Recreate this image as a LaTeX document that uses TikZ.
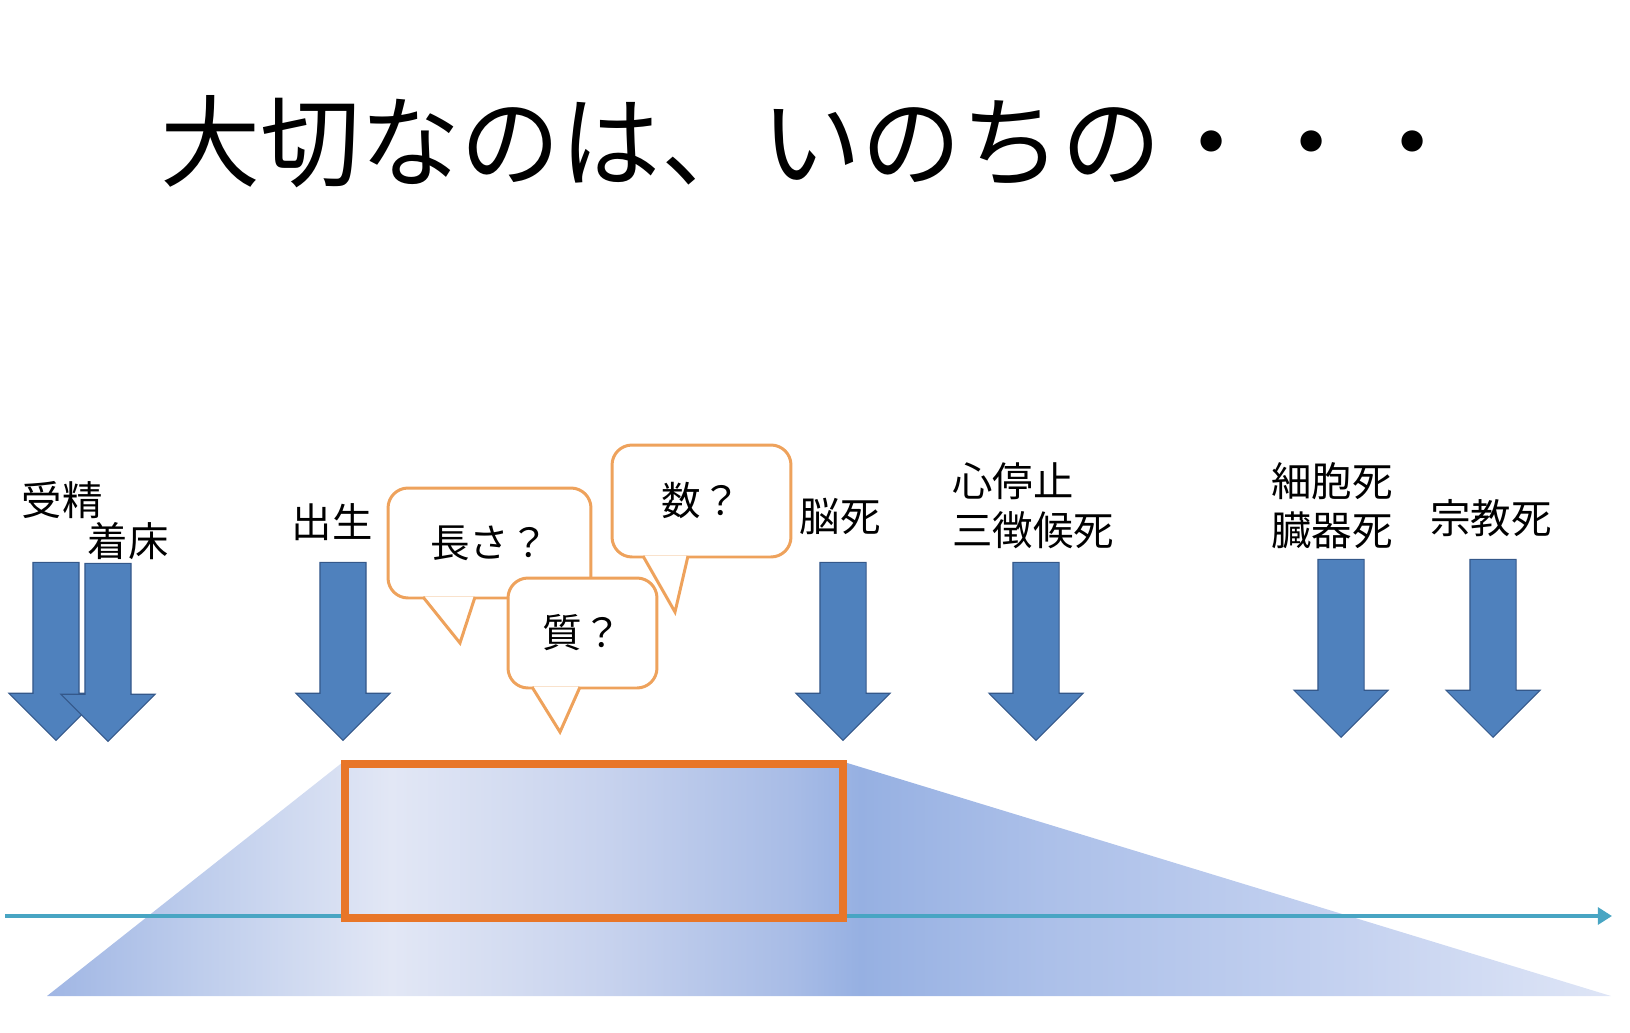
\documentclass[tikz,border=0pt]{standalone}
\usepackage{fontspec}
\setmainfont{Noto Sans CJK JP}
\usetikzlibrary{shapes.arrows,arrows.meta}

\definecolor{arrowblue}{RGB}{79,129,189}
\definecolor{arrowline}{RGB}{52,88,138}
\definecolor{talkorange}{RGB}{238,162,92}
\definecolor{lifeorange}{RGB}{232,118,40}
\definecolor{timeteal}{RGB}{72,165,195}
%% colours of the life band, left to right
\definecolor{bandA}{RGB}{160,182,228}
\definecolor{bandB}{RGB}{190,205,236}
\definecolor{bandC}{RGB}{226,231,245}
\definecolor{bandD}{RGB}{200,211,238}
\definecolor{bandE}{RGB}{168,188,230}
\definecolor{bandF}{RGB}{150,176,226}
\definecolor{bandG}{RGB}{172,192,233}
\definecolor{bandH}{RGB}{197,210,240}
\definecolor{bandI}{RGB}{222,229,246}
\pgfdeclarehorizontalshading{lifeband}{100bp}{color(0bp)=(bandA); color(25bp)=(bandA);
  color(29.9bp)=(bandB); color(36bp)=(bandC); color(42.7bp)=(bandD); color(48.8bp)=(bandE);
  color(51bp)=(bandF); color(57bp)=(bandG); color(66.7bp)=(bandH); color(75bp)=(bandI);
  color(100bp)=(bandI)}

\begin{document}
\begin{tikzpicture}[x=0.02cm, y=-0.02cm]

      \tikzset{downarrow/.style={single arrow, rotate=-90, anchor=tip, draw=arrowline, fill=arrowblue,
                 line width=0.6pt, minimum height=3.56cm, inner xsep=0pt, inner ysep=0.45cm,
                 single arrow head extend=0.48cm},
               tag/.style={text=black, font=\fontsize{23}{28}\selectfont},
               talk/.style={draw=talkorange, fill=white, line width=1.7pt, rounded corners=0.4cm,
                 inner sep=0pt, font=\fontsize{22.5}{27}\selectfont},
               tail/.style={draw=talkorange, fill=white, line width=1.7pt},
               timeline/.style={draw=timeteal, line width=2.8pt, -{Triangle[length=8pt, width=9.5pt]}},
               lifebox/.style={draw=lifeorange, line width=5pt}}

      \useasboundingbox (0,0) rectangle (1630,1032);

%% Title
      	\node[anchor=west, inner sep=0pt, font=\fontsize{57}{60}\selectfont] (title) at (160,142) {大切なのは、いのちの・・・};

%% Life band and time axis
      	\shade[shading=lifeband] (47,996) -- (343,762) -- (844,762) -- (1611,996) -- cycle;
      	\coordinate (tStart) at (5,916);
      	\coordinate (tEnd) at (1612,916);
      	\draw[timeline] (tStart) -- (tEnd);
      	\draw[lifebox] (345,764) rectangle (843,918);

%% Arrows
      	\node[downarrow] (fert) at (56,741) {};
      	\node[downarrow] (impl) at (108,742) {};
      	\node[downarrow] (birth) at (343,741) {};
      	\node[downarrow] (brain) at (843,741) {};
      	\node[downarrow] (heart) at (1036,741) {};
      	\node[downarrow] (cell) at (1341,738) {};
      	\node[downarrow] (faith) at (1493,738) {};

%% Labels
      	\node[tag] (fertT) at (62,500) {受精};
      	\node[tag] (implT) at (128,541) {着床};
      	\node[tag] (birthT) at (332,522) {出生};
      	\node[tag] (brainT) at (840,516) {脳死};
      	\node[tag, align=left, anchor=west, inner sep=0pt] (heartT) at (952,506) {心停止\\三徴候死};
      	\node[tag, align=left, anchor=west, inner sep=0pt] (cellT) at (1271,506) {細胞死\\臓器死};
      	\node[tag] (faithT) at (1491,518) {宗教死};

%% Speech bubbles
      	\node[talk, minimum width=4.06cm, minimum height=2.2cm] (len) at (489.5,543) {長さ？};
      	\coordinate (lenTip) at (460,643);
      	\filldraw[tail] ([xshift=-1.33cm, yshift=0.05cm]len.south) -- (lenTip) -- ([xshift=-0.29cm, yshift=0.05cm]len.south);

      	\node[talk, minimum width=2.98cm, minimum height=2.2cm] (qual) at (582.5,633) {質？};
      	\coordinate (qualTip) at (560,732);
      	\filldraw[tail] ([xshift=-1.01cm, yshift=0.05cm]qual.south) -- (qualTip) -- ([xshift=-0.05cm, yshift=0.05cm]qual.south);

      	\node[talk, minimum width=3.58cm, minimum height=2.24cm] (num) at (701.5,501) {数？};
      	\coordinate (numTip) at (675,612);
      	\filldraw[tail] ([xshift=-1.17cm, yshift=0.05cm]num.south) -- (numTip) -- ([xshift=-0.27cm, yshift=0.05cm]num.south);

\end{tikzpicture}
\end{document}
